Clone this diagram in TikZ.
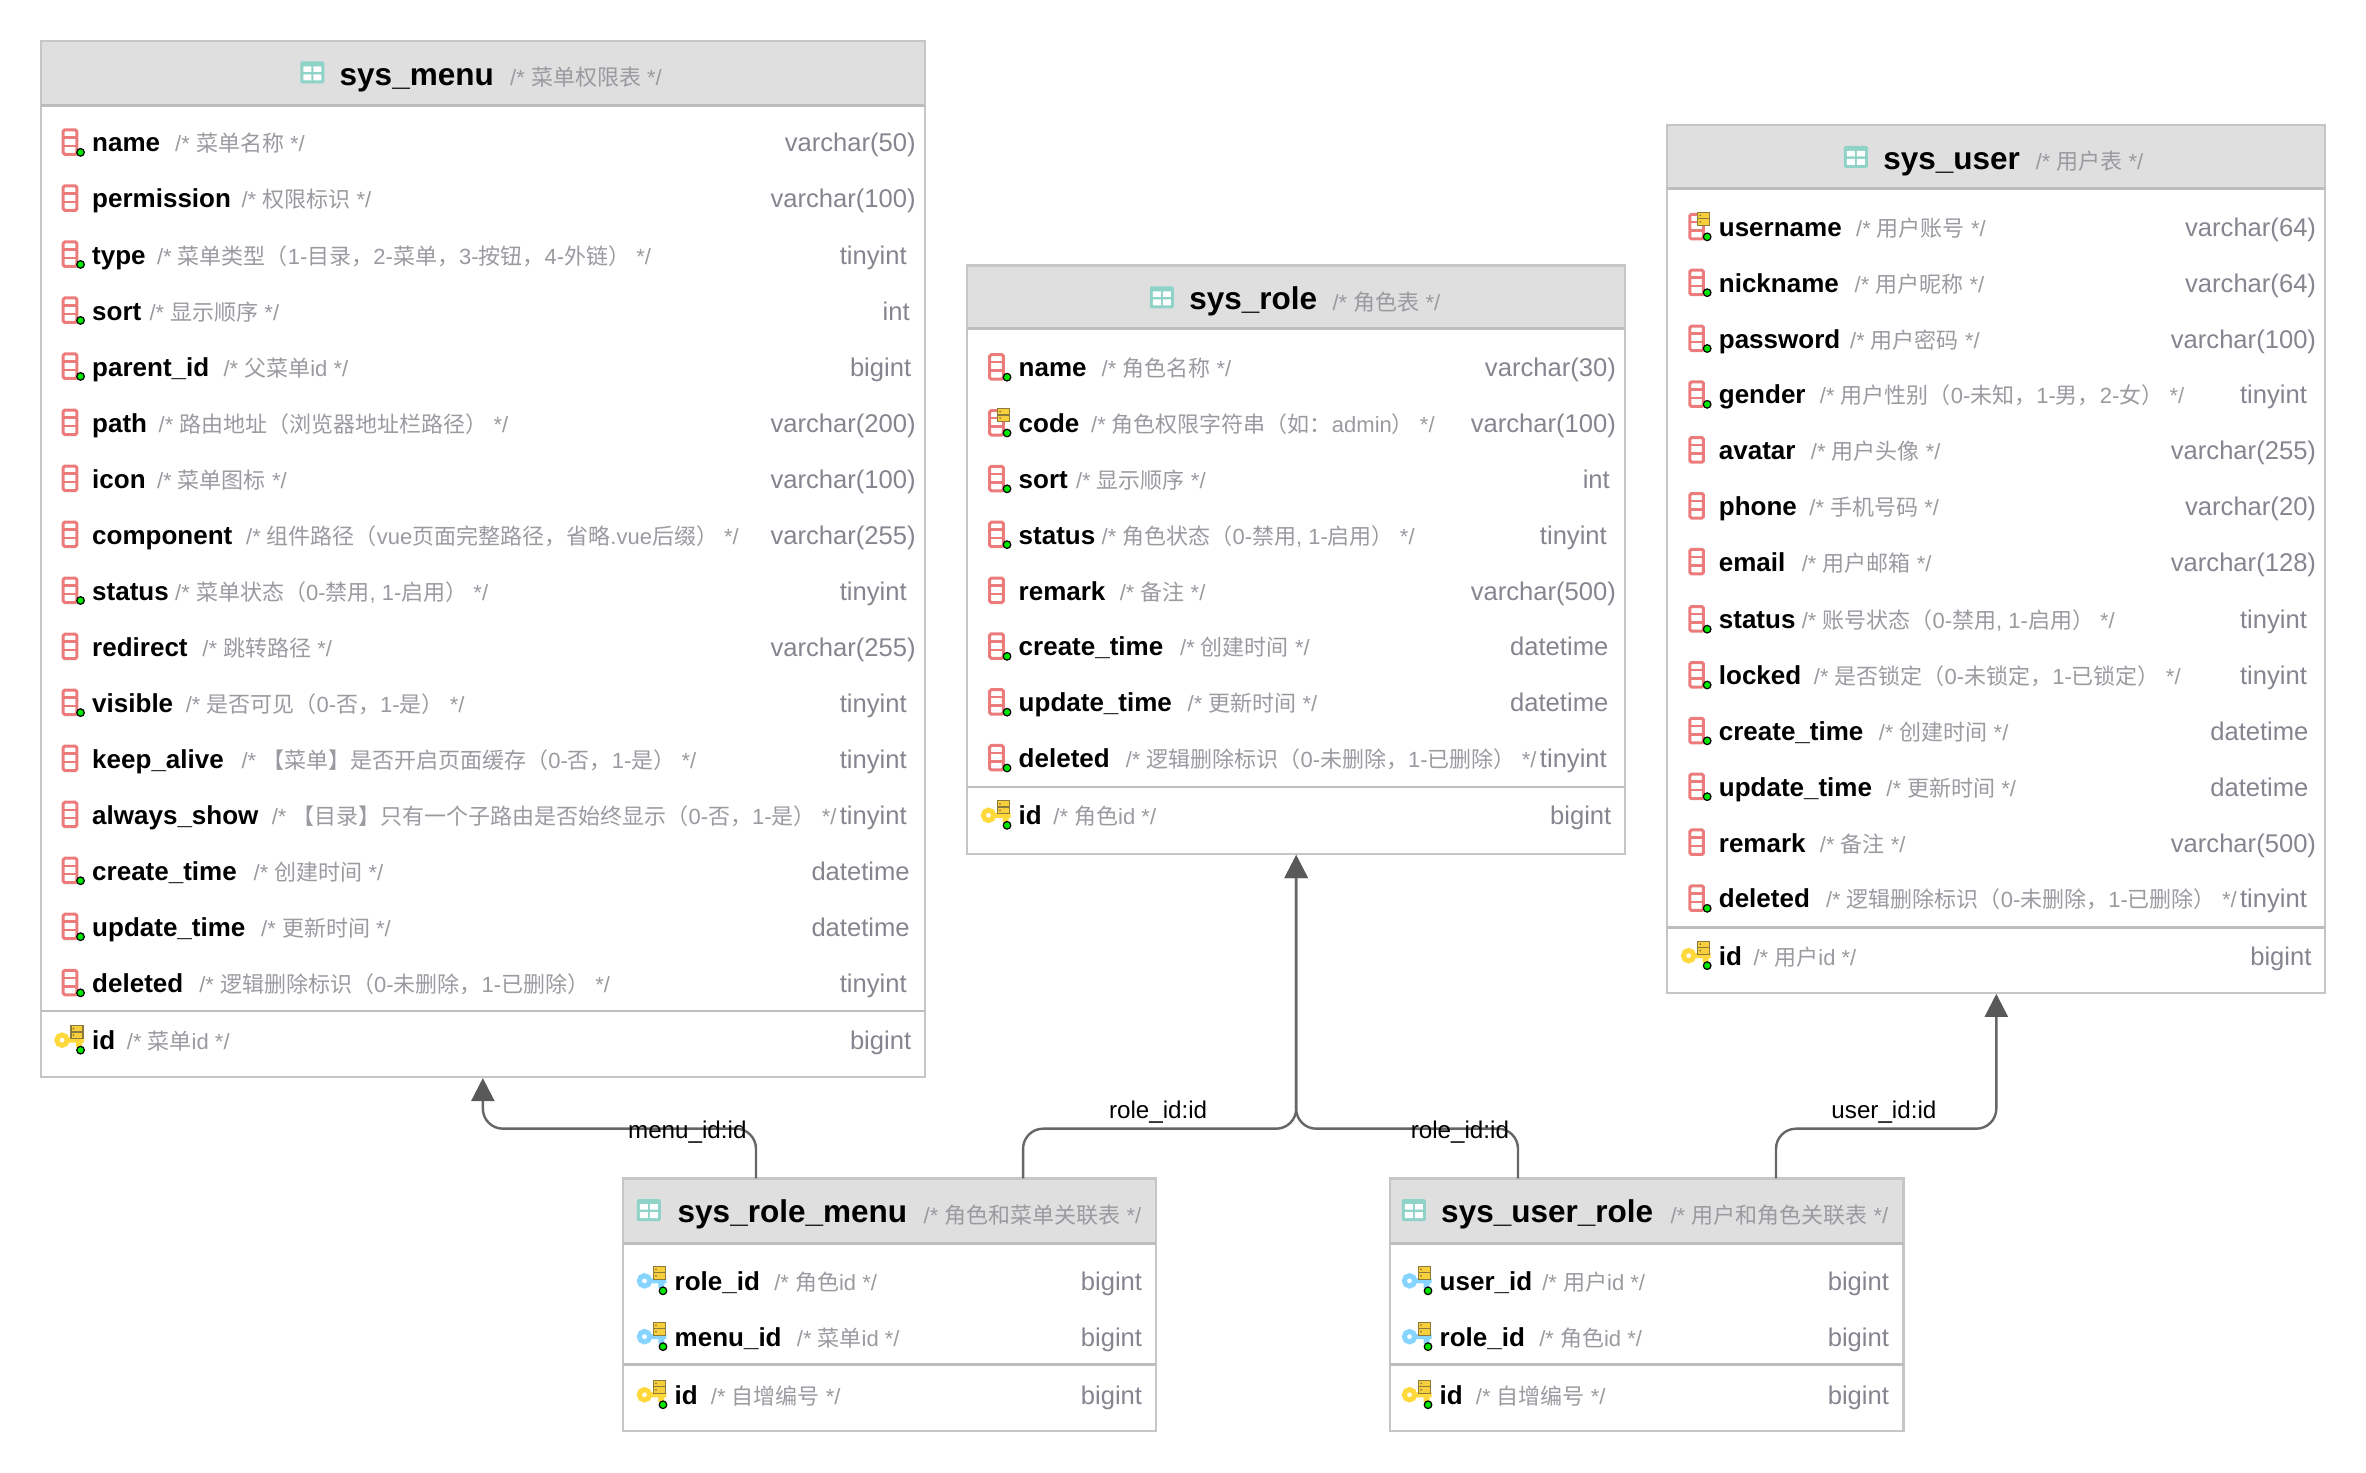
\documentclass[tikz,border=0pt]{standalone}
\usepackage{fontspec}
\usetikzlibrary{arrows.meta}
\setmainfont{Liberation Sans}
\newfontfamily\cjk{Noto Sans CJK SC}
\newXeTeXintercharclass\cjkclass
\makeatletter
\count@="3000
\loop\XeTeXcharclass\count@=\cjkclass\advance\count@ 1 \ifnum\count@<"A000 \repeat
\count@="FF00
\loop\XeTeXcharclass\count@=\cjkclass\advance\count@ 1 \ifnum\count@<"FFF0 \repeat
\makeatother
\XeTeXinterchartoks 0 \cjkclass={\begingroup\cjk}
\XeTeXinterchartoks 4095 \cjkclass={\begingroup\cjk}
\XeTeXinterchartoks \cjkclass 0={\endgroup}
\XeTeXinterchartoks \cjkclass 4095={\endgroup}
\definecolor{hdr}{HTML}{DFDFDF}
\definecolor{edge}{HTML}{C6C6C6}
\definecolor{edgeb}{HTML}{BDBDBD}
\definecolor{cmtc}{HTML}{9A9AA0}
\definecolor{typec}{HTML}{85858F}
\definecolor{colred}{HTML}{EC7C7C}
\definecolor{teal}{HTML}{8FD3C8}
\definecolor{gold}{HTML}{F7CF3C}
\definecolor{goldd}{HTML}{8C7A3C}
\definecolor{keyy}{HTML}{FFD83C}
\definecolor{keyb}{HTML}{86D4FF}
\definecolor{dotg}{HTML}{00E600}
\definecolor{rel}{HTML}{666666}
\definecolor{tipc}{HTML}{595959}
\newcounter{rowc}
\tikzset{
  tblbox/.style={draw=edge,line width=2.2pt,inner sep=0pt,outer sep=0pt,anchor=north west},
  hdrline/.style={draw=edgeb,line width=3pt},
  divline/.style={draw=edgeb,line width=2.6pt},
  fname/.style={inner sep=0pt,anchor=base west,font=\fontsize{26}{30}\selectfont\bfseries,text=black},
  tname/.style={inner sep=0pt,anchor=base west,font=\fontsize{31.5}{36}\selectfont\bfseries,text=black},
  fcmt/.style={inner sep=0pt,anchor=base west,font=\fontsize{22}{26}\selectfont,text=cmtc},
  ftype/.style={inner sep=0pt,anchor=base east,font=\fontsize{25.6}{30}\selectfont,text=typec},
  rellink/.style={draw=rel,line width=2.4pt,rounded corners=20pt,shorten >=1pt,-{Triangle[width=23pt,length=23pt,color=tipc]}},
  rellabel/.style={inner sep=0pt,font=\fontsize{24.2}{28}\selectfont,text=black},
}
\newcommand{\cmt}[1]{{\XeTeXinterchartokenstate=1 #1}}
% table frame: id x1 y1 x2 y2 headerbottom divider
\newcommand{\tbl}[7]{%
  \pgfmathsetlengthmacro{\tw}{(#4-#2)*1.5089pt}%
  \pgfmathsetlengthmacro{\th}{(#5-#3)*1.5089pt}%
  \fill[hdr] (#2,#3) rectangle (#4,#6);
  \node[tblbox,minimum width=\tw,minimum height=\th] (#1) at (#2,#3) {};
  \draw[hdrline] (#2,#6) -- (#4,#6);
  \draw[divline] (#2,#7) -- (#4,#7);
}
% title: iconx y namex name cmtx cmt
\newcommand{\ttl}[6]{%
  \begin{scope}[shift={(#1,#2)},x=1pt,y=-1pt]
    \fill[teal,rounded corners=2pt] (0,-11) rectangle (24,11);
    \fill[white] (3,-6) rectangle (11,-0.5) (13,-6) rectangle (21,-0.5) (3,2) rectangle (11,8) (13,2) rectangle (21,8);
  \end{scope}
  \stepcounter{rowc}%
  \node[tname] (t\arabic{rowc}) at ([yshift=-12.6pt]#3,#2) {#4};
  \node[fcmt] (c\arabic{rowc}) at ([yshift=-13pt]#5,#2) {\cmt{#6}};
}
\newcommand{\colic}[2]{%
  \begin{scope}[shift={(#1,#2)},x=1pt,y=-1pt]
    \draw[colred,line width=3pt,rounded corners=1.5pt] (-28.8,-13.5) rectangle (-15.2,11);
    \draw[colred,line width=2.4pt] (-28.8,-6) -- (-15.2,-6) (-28.8,2.5) -- (-15.2,2.5);
  \end{scope}}
\newcommand{\dotic}[2]{%
  \begin{scope}[shift={(#1,#2)},x=1pt,y=-1pt]
    \filldraw[fill=dotg,draw=black,line width=1.2pt] (-11.5,9) circle (3.8);
  \end{scope}}
\newcommand{\idxic}[2]{%
  \begin{scope}[shift={(#1,#2)},x=1pt,y=-1pt]
    \filldraw[fill=gold,draw=goldd,line width=1.2pt] (-21,-15.5) rectangle (-9,-9.5) (-21,-9) rectangle (-9,-2.5);
    \fill[goldd] (-18.5,-12.5) circle (1) (-18.5,-6) circle (1);
  \end{scope}}
\newcommand{\keyic}[3]{%
  \begin{scope}[shift={(#2,#3)},x=1pt,y=-1pt]
    \draw[#1,line width=5pt] (-30,-1) circle (5.2);
    \fill[#1] (-25,-3.5) rectangle (-8,1.5) (-16,0) rectangle (-10,6);
  \end{scope}}
% kind: c=column, d=column+notnull, u=column+unique, p=primary, f=foreign
\newcommand{\rowic}[3]{%
  \ifx#1c\colic{#2}{#3}\fi
  \ifx#1d\colic{#2}{#3}\dotic{#2}{#3}\fi
  \ifx#1u\colic{#2}{#3}\idxic{#2}{#3}\dotic{#2}{#3}\fi
  \ifx#1p\keyic{keyy}{#2}{#3}\idxic{#2}{#3}\dotic{#2}{#3}\fi
  \ifx#1f\keyic{keyb}{#2}{#3}\idxic{#2}{#3}\dotic{#2}{#3}\fi
}
% kind namex y name cmtx cmt typex type
\newcommand{\frow}[8]{%
  \rowic{#1}{#2}{#3}
  \stepcounter{rowc}%
  \node[fname] (n\arabic{rowc}) at ([yshift=-8.6pt]#2,#3) {#4};
  \node[fcmt] (c\arabic{rowc}) at ([yshift=-8.6pt]#5,#3) {\cmt{#6}};
  \node[ftype] (y\arabic{rowc}) at ([yshift=-8.6pt]#7,#3) {#8};
}
\begin{document}
\begin{tikzpicture}[x=1.5089pt,y=-1.5089pt]
\useasboundingbox (0,0) rectangle (1568,975.55);
%
\tbl{smenu}{27.2}{27.2}{613}{713.8}{69.6}{670}
\ttl{199}{48}{225}{sys\_menu}{338}{/* 菜单权限表 */}
\frow{d}{61}{95}{name}{116}{/* 菜单名称 */}{607}{varchar(50)}
\frow{c}{61}{132.1}{permission}{160}{/* 权限标识 */}{607}{varchar(100)}
\frow{d}{61}{169.3}{type}{104}{/* 菜单类型（1-目录，2-菜单，3-按钮，4-外链） */}{601}{tinyint}
\frow{d}{61}{206.4}{sort}{99}{/* 显示顺序 */}{603}{int}
\frow{d}{61}{243.5}{parent\_id}{148}{/* 父菜单id */}{604}{bigint}
\frow{c}{61}{280.7}{path}{105}{/* 路由地址（浏览器地址栏路径） */}{607}{varchar(200)}
\frow{c}{61}{317.8}{icon}{104}{/* 菜单图标 */}{607}{varchar(100)}
\frow{c}{61}{354.9}{component}{163}{/* 组件路径（vue页面完整路径，省略.vue后缀） */}{607}{varchar(255)}
\frow{d}{61}{392}{status}{116}{/* 菜单状态（0-禁用, 1-启用） */}{601}{tinyint}
\frow{c}{61}{429.2}{redirect}{134}{/* 跳转路径 */}{607}{varchar(255)}
\frow{d}{61}{466.3}{visible}{123}{/* 是否可见（0-否，1-是） */}{601}{tinyint}
\frow{c}{61}{503.4}{keep\_alive}{160}{/* 【菜单】是否开启页面缓存（0-否，1-是） */}{601}{tinyint}
\frow{c}{61}{540.6}{always\_show}{180}{/* 【目录】只有一个子路由是否始终显示（0-否，1-是） */}{601}{tinyint}
\frow{d}{61}{577.7}{create\_time}{168}{/* 创建时间 */}{603}{datetime}
\frow{d}{61}{614.8}{update\_time}{173}{/* 更新时间 */}{603}{datetime}
\frow{d}{61}{652}{deleted}{132}{/* 逻辑删除标识（0-未删除，1-已删除） */}{601}{tinyint}
\frow{p}{61}{690}{id}{84}{/* 菜单id */}{604}{bigint}
%
\tbl{srole}{641}{176}{1077}{566}{218}{521.5}
\ttl{762}{197}{788}{sys\_role}{883}{/* 角色表 */}
\frow{d}{675}{244}{name}{730}{/* 角色名称 */}{1071}{varchar(30)}
\frow{u}{675}{281}{code}{723}{/* 角色权限字符串（如：admin） */}{1071}{varchar(100)}
\frow{d}{675}{318}{sort}{713}{/* 显示顺序 */}{1067}{int}
\frow{d}{675}{355}{status}{730}{/* 角色状态（0-禁用, 1-启用） */}{1065}{tinyint}
\frow{c}{675}{392}{remark}{742}{/* 备注 */}{1071}{varchar(500)}
\frow{d}{675}{429}{create\_time}{782}{/* 创建时间 */}{1066}{datetime}
\frow{d}{675}{466}{update\_time}{787}{/* 更新时间 */}{1066}{datetime}
\frow{d}{675}{503}{deleted}{746}{/* 逻辑删除标识（0-未删除，1-已删除） */}{1065}{tinyint}
\frow{p}{675}{541}{id}{698}{/* 角色id */}{1068}{bigint}
%
\tbl{suser}{1105}{83}{1541}{658}{125}{614.5}
\ttl{1222}{104}{1248}{sys\_user}{1349}{/* 用户表 */}
\frow{u}{1139}{151}{username}{1230}{/* 用户账号 */}{1535}{varchar(64)}
\frow{d}{1139}{188}{nickname}{1229}{/* 用户昵称 */}{1535}{varchar(64)}
\frow{d}{1139}{225}{password}{1226}{/* 用户密码 */}{1535}{varchar(100)}
\frow{d}{1139}{262}{gender}{1206}{/* 用户性别（0-未知，1-男，2-女） */}{1529}{tinyint}
\frow{c}{1139}{299}{avatar}{1200}{/* 用户头像 */}{1535}{varchar(255)}
\frow{c}{1139}{336}{phone}{1199}{/* 手机号码 */}{1535}{varchar(20)}
\frow{c}{1139}{373}{email}{1194}{/* 用户邮箱 */}{1535}{varchar(128)}
\frow{d}{1139}{411}{status}{1194}{/* 账号状态（0-禁用, 1-启用） */}{1529}{tinyint}
\frow{d}{1139}{448}{locked}{1202}{/* 是否锁定（0-未锁定，1-已锁定） */}{1529}{tinyint}
\frow{d}{1139}{485}{create\_time}{1245}{/* 创建时间 */}{1530}{datetime}
\frow{d}{1139}{522}{update\_time}{1250}{/* 更新时间 */}{1530}{datetime}
\frow{c}{1139}{559}{remark}{1206}{/* 备注 */}{1535}{varchar(500)}
\frow{d}{1139}{596}{deleted}{1210}{/* 逻辑删除标识（0-未删除，1-已删除） */}{1529}{tinyint}
\frow{p}{1139}{634}{id}{1162}{/* 用户id */}{1532}{bigint}
%
\tbl{srm}{413}{781}{766}{948.5}{823.8}{904.4}
\ttl{422}{802}{449}{sys\_role\_menu}{612}{/* 角色和菜单关联表 */}
\frow{f}{447}{849.5}{role\_id}{513}{/* 角色id */}{757}{bigint}
\frow{f}{447}{886.5}{menu\_id}{528}{/* 菜单id */}{757}{bigint}
\frow{p}{447}{925}{id}{471}{/* 自增编号 */}{757}{bigint}
%
\tbl{sur}{921}{781}{1261.5}{948.5}{823.8}{904.4}
\ttl{929}{802}{955}{sys\_user\_role}{1107}{/* 用户和角色关联表 */}
\frow{f}{954}{849.5}{user\_id}{1022}{/* 用户id */}{1252}{bigint}
\frow{f}{954}{886.5}{role\_id}{1020}{/* 角色id */}{1252}{bigint}
\frow{p}{954}{925}{id}{978}{/* 自增编号 */}{1252}{bigint}
%
\draw[rellink] (501,0 |- srm.north) -- (501,748) -- (320,748) -- (320,0 |- smenu.south);
\draw[rellink] (678,0 |- srm.north) -- (678,748) -- (859,748) -- (859,0 |- srole.south);
\draw[rellink] (1006,0 |- sur.north) -- (1006,748) -- (859,748) -- (859,0 |- srole.south);
\draw[rellink] (1177,0 |- sur.north) -- (1177,748) -- (1323,748) -- (1323,0 |- suser.south);
\node[rellabel] (lb1) at (455.5,750) {menu\_id:id};
\node[rellabel] (lb2) at (767.5,737) {role\_id:id};
\node[rellabel] (lb3) at (967.5,750) {role\_id:id};
\node[rellabel] (lb4) at (1248.5,737) {user\_id:id};
\end{tikzpicture}
\end{document}
